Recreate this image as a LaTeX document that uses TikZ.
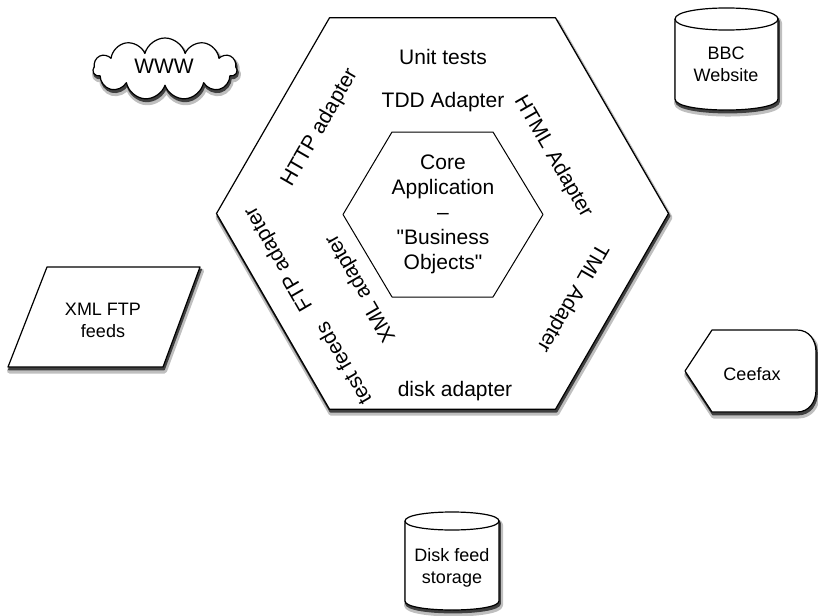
\documentclass[tikz,border=0pt]{standalone}
\usepackage{fontspec}
\setmainfont{Liberation Sans}[Ligatures=TeXOff]
\usetikzlibrary{shapes.symbols}
\begin{document}
\begin{tikzpicture}[x=1pt,y=-1pt,
  softshade/.style={
    preaction={fill=black!25, draw=black!25, line width=5pt, line join=round, transform canvas={xshift=1.5pt, yshift=-4pt}},
    preaction={fill=black!75, draw=black!75, line width=1.8pt, line join=round, transform canvas={xshift=1pt, yshift=-2.5pt}}},
  shapeline/.style={draw=black, line width=1.2pt, fill=white, line join=round},
  bigtext/.style={font=\fontsize{21}{25}\selectfont, align=center, inner sep=0pt},
  smalltext/.style={font=\fontsize{18}{22}\selectfont, align=center, inner sep=0pt}]
\useasboundingbox (0,0) rectangle (818,615);

% outer hexagon
\draw[shapeline, softshade] (329.5,17.8) -- (555.5,17.8) -- (668.5,213.5) -- (555.5,409.2) -- (329.5,409.2) -- (216.5,213.5) -- cycle;
% inner hexagon
\draw[draw=black, line width=1pt, line join=round] (392,132) -- (493,132) -- (543,214.5) -- (493,297) -- (392,297) -- (343,214.5) -- cycle;

% hexagon texts
\node[bigtext] (unit) at (443,57) {Unit tests};
\node[bigtext] (tdd) at (443,102) {TDD Adapter};
\node[bigtext] (core) at (443,214) {Core\\Application\\–\\"Business\\Objects"};
\node[bigtext, rotate=60] (http) at (320,128) {HTTP adapter};
\node[bigtext, rotate=-60] (html) at (553,157) {HTML Adapter};
\node[bigtext, rotate=-120] (tml) at (572,298) {TML Adapter};
\node[bigtext, rotate=120] (ftp) at (279,259) {FTP adapter};
\node[bigtext, rotate=120] (xml) at (361,288) {XML adapter};
\node[bigtext, rotate=120] (testf) at (343,364) {test feeds};
\node[bigtext] (disk) at (455,391) {disk adapter};

% cloud
\node[cloud, cloud puffs=11, aspect=2.3, shapeline, softshade, minimum width=144pt, minimum height=62pt] (cloudshape) at (165,69) {};
\node[font=\fontsize{21}{25}\selectfont, inner sep=0pt] (www) at (164,66) {WWW};

% BBC website cylinder
\draw[shapeline, softshade] (675,19) -- (675,99) .. controls (675,113.7) and (778,113.7) .. (778,99) -- (778,19) .. controls (778,4.3) and (675,4.3) .. (675,19) -- cycle;
\draw[line width=1.2pt] (675,19) .. controls (675,33.7) and (778,33.7) .. (778,19);
\node[smalltext] (bbc) at (726,64) {BBC\\Website};

% XML FTP feeds parallelogram
\draw[shapeline, softshade] (47,267) -- (200,267) -- (163,367) -- (8,367) -- cycle;
\node[smalltext] (xmlftp) at (103,320) {XML FTP\\feeds};

% Ceefax display shape
\draw[shapeline, softshade] (685,371) -- (712,330) -- (797,330) .. controls (809,330) and (816,340) .. (816,352) -- (816,390) .. controls (816,402) and (809,412) .. (797,412) -- (712,412) -- cycle;
\node[smalltext] (ceefax) at (752,374) {Ceefax};

% Disk feed storage cylinder
\draw[shapeline, softshade] (405,521) -- (405,601) .. controls (405,613) and (499,613) .. (499,601) -- (499,521) .. controls (499,509) and (405,509) .. (405,521) -- cycle;
\draw[line width=1.2pt] (405,521) .. controls (405,533) and (499,533) .. (499,521);
\node[smalltext] (diskfeed) at (452,568) {Disk feed\\storage};
\end{tikzpicture}
\end{document}
